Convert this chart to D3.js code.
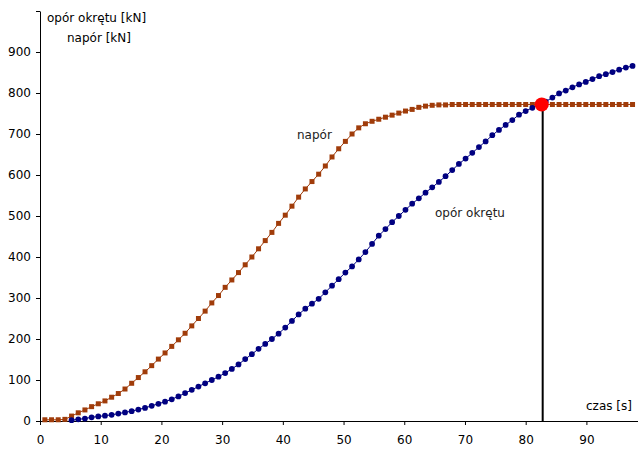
<!DOCTYPE html>
<html>
<head>
<meta charset="utf-8">
<script src="https://cdn.jsdelivr.net/npm/d3@7"></script>
<style>
html,body{margin:0;padding:0;background:#fff;}
svg{display:block;}
text{font-family:"DejaVu Sans",sans-serif;}
</style>
</head>
<body>
<script>
const timeStart = 0.8, timeStep = 1.1;
const naporValues = [3,3,3,4,12,20,27,35,42,49,58,67,78,92,106,120,135,151,166,182,198,214,232,250,268,288,306,326,344,362,381,400,420,440,460,482,502,524,546,566,584,602,622,644,664,682,700,715,725,731,736,741,746,751,756,760,765,768,770,771,771,772,772,772,772,772,772,772,772,772,772,772,772,772,772,772,772,772,772,772,772,772,772,772,772,772,772,772,772];
const oporValues = [null,null,null,null,2,4,6,9,11,13,15,18,21,24,28,32,37,42,47,53,60,68,76,84,92,100,108,117,127,138,151,163,176,188,200,213,228,244,260,274,286,298,314,330,346,362,377,394,412,432,452,468,485,500,515,530,543,557,570,583,597,612,627,640,654,668,682,697,710,722,734,747,756,764,772,779,789,799,806,814,821,827,834,841,846,851,857,862,866];
const times = naporValues.map((_, i) => +(timeStart + i * timeStep).toFixed(1));
const xTicks = [0,10,20,30,40,50,60,70,80,90];
const yTicks = [0,100,200,300,400,500,600,700,800,900,1000];
const yTickLabels = ["0","100","200","300","400","500","600","700","800","900",""];
const crossing = {t: 82.8, v: 772};

const W = 638, H = 450;
const svg = d3.select("body").append("svg").attr("width", W).attr("height", H);
const x = d3.scaleLinear().domain([0, 98.5]).range([40, 638]);
const y = d3.scaleLinear().domain([0, 1000]).range([421, 11]);

// axes
const yAxis = d3.axisLeft(y).tickValues(yTicks).tickFormat((d,i)=>yTickLabels[i]).tickSize(4).tickSizeOuter(0);
const gy = svg.append("g").attr("transform", "translate(40,0)").call(yAxis);
gy.select(".domain").attr("stroke", "#000");
gy.selectAll(".tick line").attr("stroke", "#000");
gy.selectAll(".tick text").attr("font-size", 12).attr("font-family", "DejaVu Sans").attr("fill", "#000").attr("x", -9);

const xAxis = d3.axisBottom(x).tickValues(xTicks).tickSize(4).tickSizeOuter(0);
const gx = svg.append("g").attr("transform", "translate(0,421)").call(xAxis);
gx.select(".domain").attr("stroke", "#000");
gx.selectAll(".tick line").attr("stroke", "#000");
gx.selectAll(".tick text").attr("font-size", 12).attr("font-family", "DejaVu Sans").attr("fill", "#000").attr("y", 14);

// series
const napor = times.map((t,i)=>({t, v: naporValues[i]}));
const opor = times.map((t,i)=>({t, v: oporValues[i]})).filter(d=>d.v!==null);
const line = d3.line().x(d=>x(d.t)).y(d=>y(d.v));
const brown = "#a03c0a", navy = "#000080";

svg.append("path").datum(napor).attr("d", line).attr("fill","none").attr("stroke", brown).attr("stroke-width", 1);
svg.append("path").datum(opor).attr("d", line).attr("fill","none").attr("stroke", navy).attr("stroke-width", 1);

svg.append("g").selectAll("path").data(napor).join("path")
  .attr("d", d3.symbol(d3.symbolSquare, 25))
  .attr("transform", d=>`translate(${x(d.t)},${y(d.v)})`)
  .attr("fill", brown);
svg.append("g").selectAll("path").data(opor).join("path")
  .attr("d", d3.symbol(d3.symbolCircle, 26))
  .attr("transform", d=>`translate(${x(d.t)},${y(d.v)})`)
  .attr("fill", navy);

// crossing line & dot
svg.append("line").attr("x1", x(crossing.t)).attr("x2", x(crossing.t))
  .attr("y1", y(crossing.v)).attr("y2", y(0)).attr("stroke", "#000").attr("stroke-width", 2);
svg.append("circle").attr("cx", x(crossing.t) - 1).attr("cy", y(crossing.v)).attr("r", 7).attr("fill", "#ff0000");

// labels
svg.append("text").attr("x", 47).attr("y", 22).attr("font-size", 12).text("opór okrętu [kN]");
svg.append("text").attr("x", 67).attr("y", 42).attr("font-size", 12).text("napór [kN]");
svg.append("text").attr("x", 586).attr("y", 410).attr("font-size", 12).text("czas [s]");
svg.append("text").attr("x", 297).attr("y", 139).attr("font-size", 12).attr("fill", "#222").text("napór");
svg.append("text").attr("x", 435).attr("y", 217).attr("font-size", 12).attr("fill", "#222").text("opór okrętu");
</script>
</body>
</html>
